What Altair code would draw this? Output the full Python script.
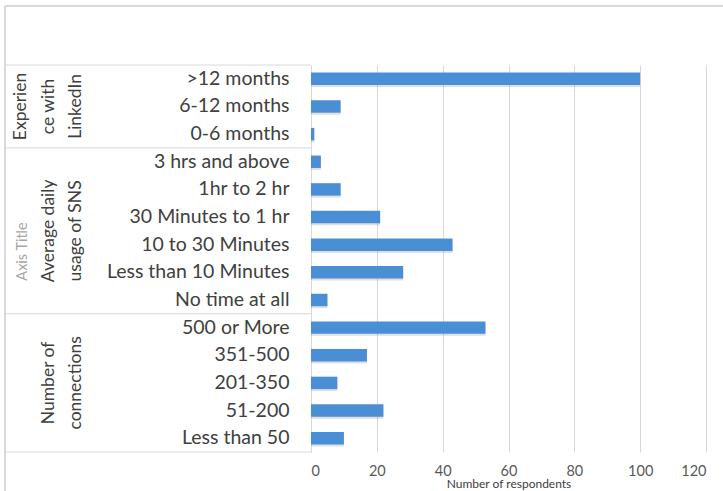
import altair as alt
import pandas as pd

categories = [">12 months", "6-12 months", "0-6 months",
              "3 hrs and above", "1hr to 2 hr", "30 Minutes to 1 hr",
              "10 to 30 Minutes", "Less than 10 Minutes", "No time at all",
              "500 or More", "351-500", "201-350", "51-200", "Less than 50"]
values = [100, 9, 1, 3, 9, 21, 43, 28, 5, 53, 17, 8, 22, 10]
x_ticks = [0, 20, 40, 60, 80, 100, 120]

group_labels = ["Experien\nce with\nLinkedIn", "Average daily\nusage of SNS", "Number of\nconnections"]
group_anchor = ["6-12 months", "10 to 30 Minutes", "201-350"]
group_anchor_band = [0.5, 0.0, 0.5]
separator_top = [">12 months", "3 hrs and above", "500 or More"]
separator_bottom = ["Less than 50"]

FONT = "Lato"
W, H = 395, 387
PAD_L, PAD_T, PAD_R, PAD_B = 311, 65, 17, 39
LINE = "#d9d9d9"
GLH = 27.5          # line height of the group labels
LAST_LINE_X = 73    # centre of the last line of each group label

df = pd.DataFrame({"category": categories, "value": values})

yscale = alt.Scale(domain=categories, paddingInner=0, paddingOuter=0)
xscale = alt.Scale(domain=[0, 120], nice=False)

base = alt.Chart(df)

shadow = base.mark_bar(height=alt.RelativeBandSize(0.45), color="#808080",
                       opacity=0.25, yOffset=2, x2Offset=2).encode(
    x=alt.X("value:Q", scale=xscale),
    y=alt.Y("category:N", scale=yscale, sort=categories),
)

bars = base.mark_bar(height=alt.RelativeBandSize(0.45), color="#4A8FD6").encode(
    x=alt.X("value:Q", scale=xscale,
            axis=alt.Axis(values=x_ticks, grid=True, gridColor=LINE, domain=False,
                          ticks=False, labelPadding=12, labelFontSize=14.5,
                          labelColor="#595959", labelFont=FONT,
                          title="Number of respondents", titleFontSize=12,
                          titleFontWeight="normal", titleColor="#404040",
                          titleFont=FONT, titleY=31, titleBaseline="middle")),
    y=alt.Y("category:N", scale=yscale, sort=categories,
            axis=alt.Axis(title="Axis Title", titleColor="#a6a6a6", titleFontSize=14.5,
                          titleFontWeight="normal", titleFont=FONT,
                          titleX=-289, titleY=186, titleAngle=270,
                          titleBaseline="middle", titleAlign="center",
                          labelFontSize=19.5, labelColor="#404040", labelFont=FONT,
                          labelPadding=22, labelLimit=300, ticks=False,
                          domainColor=LINE, grid=False)),
)

sep_top = alt.Chart(pd.DataFrame({"category": separator_top})).mark_rule(
    color=LINE, strokeWidth=1).encode(
    y=alt.Y("category:N", scale=yscale, sort=categories, bandPosition=0),
    x=alt.value(-PAD_L + 5), x2=alt.value(0),
)
sep_bot = alt.Chart(pd.DataFrame({"category": separator_bottom})).mark_rule(
    color=LINE, strokeWidth=1).encode(
    y=alt.Y("category:N", scale=yscale, sort=categories, bandPosition=1),
    x=alt.value(-PAD_L + 5), x2=alt.value(0),
)

border_top = alt.Chart(df).mark_rule(color=LINE).encode(
    x=alt.value(-PAD_L + 5), x2=alt.value(W + PAD_R), y=alt.value(-PAD_T + 6))
border_left = alt.Chart(df).mark_rule(color=LINE).encode(
    x=alt.value(-PAD_L + 5), y=alt.value(-PAD_T + 6), y2=alt.value(H + PAD_B))

glayers = []
for lab, anc, bp in zip(group_labels, group_anchor, group_anchor_band):
    n_lines = lab.count("\n") + 1
    first_x = LAST_LINE_X - (n_lines - 1) * GLH
    glayers.append(
        alt.Chart(pd.DataFrame({"label": [lab], "anchor": [anc]})).mark_text(
            angle=270, lineBreak="\n", baseline="bottom", align="center",
            fontSize=17.5, color="#404040", font=FONT, lineHeight=GLH).encode(
            y=alt.Y("anchor:N", scale=yscale, sort=categories, bandPosition=bp),
            x=alt.value(-PAD_L + first_x + 12),
            text="label:N",
        )
    )

chart = alt.layer(border_top, border_left, sep_top, sep_bot, shadow, bars, *glayers).properties(
    width=W, height=H,
    autosize=alt.AutoSizeParams(type="none"),
    padding={"left": PAD_L, "top": PAD_T, "right": PAD_R, "bottom": PAD_B},
    background="white",
).configure_view(stroke=None)

chart.save("out.html", embed_options={"renderer": "svg", "actions": False})
